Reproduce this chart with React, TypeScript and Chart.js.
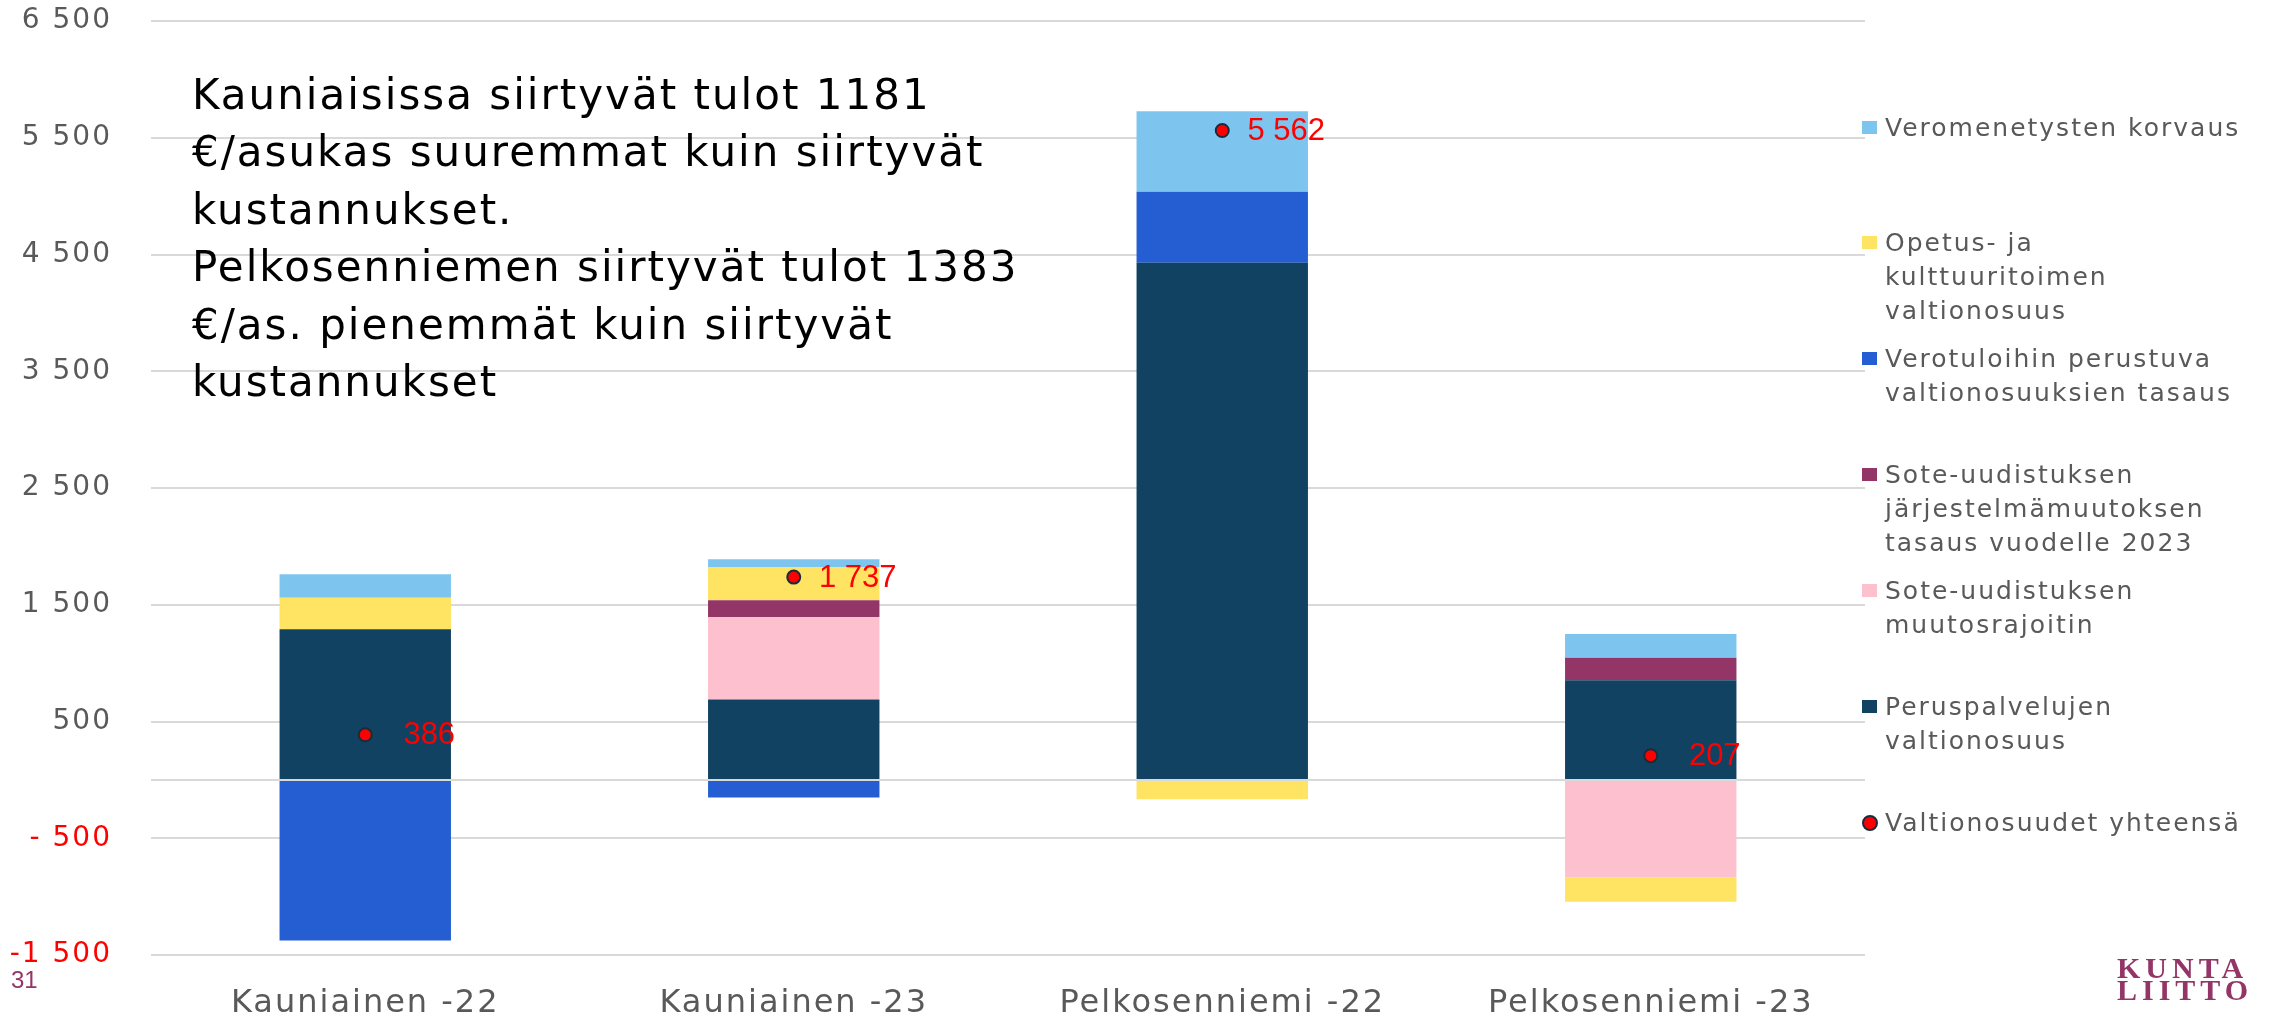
import React, { useEffect, useRef } from 'react';
import { Chart, registerables } from 'chart.js';
Chart.register(...registerables);

const categories = ['Kauniainen -22', 'Kauniainen -23', 'Pelkosenniemi -22', 'Pelkosenniemi -23'];

// series values (€/asukas)
const peruspalvelut = [1290, 688, 4429, 853];
const muutosrajoitin = [0, 707, 0, -835];
const jarjestelmamuutos = [0, 143, 0, 192];
const verotuloTasaus = [-1375, -151, 608, 0];
const opetusKulttuuri = [271, 285, -165, -208];
const veromenetykset = [200, 66, 691, 205];
const totals = [386, 1737, 5562, 207];
const totalLabels = ['386', '1 737', '5 562', '207'];

const yTickValues = [-1500, -500, 0, 500, 1500, 2500, 3500, 4500, 5500, 6500];
const yTickLabels = ['-1 500', '- 500', '', '500', '1 500', '2 500', '3 500', '4 500', '5 500', '6 500'];

const annotationLines = [
  'Kauniaisissa siirtyvät tulot 1181',
  '€/asukas suuremmat kuin siirtyvät',
  'kustannukset.',
  'Pelkosenniemen siirtyvät tulot 1383',
  '€/as. pienemmät kuin siirtyvät',
  'kustannukset',
];

const C = {
  navy: '#114262',
  pink: '#FDC0CF',
  purple: '#933566',
  blue: '#255ED2',
  yellow: '#FFE363',
  light: '#7DC5EF',
  red: '#FF0000',
  gray: '#595959',
  grid: '#D9D9D9',
};

const legendItems = [
  { lines: ['Veromenetysten korvaus'], color: C.light, dot: false },
  { lines: ['Opetus- ja', 'kulttuuritoimen', 'valtionosuus'], color: C.yellow, dot: false },
  { lines: ['Verotuloihin perustuva', 'valtionosuuksien tasaus'], color: C.blue, dot: false },
  { lines: ['Sote-uudistuksen', 'järjestelmämuutoksen', 'tasaus vuodelle 2023'], color: C.purple, dot: false },
  { lines: ['Sote-uudistuksen', 'muutosrajoitin'], color: C.pink, dot: false },
  { lines: ['Peruspalvelujen', 'valtionosuus'], color: C.navy, dot: false },
  { lines: ['Valtionosuudet yhteensä'], color: C.red, dot: true },
];

const FONT = '"DejaVu Sans", sans-serif';

export default function App() {
  const ref = useRef<HTMLCanvasElement>(null);

  useEffect(() => {
    const canvas = ref.current!;
    const spacing = {
      id: 'spacing',
      beforeUpdate(chart: any) { chart.ctx.letterSpacing = '2px'; },
      beforeDraw(chart: any) { chart.ctx.letterSpacing = '2px'; },
      afterDatasetsDraw(chart: any) {
        const ctx = chart.ctx;
        const ca = chart.chartArea;
        const y0 = chart.scales.y.getPixelForValue(0);
        ctx.save();
        ctx.strokeStyle = C.grid;
        ctx.lineWidth = 2;
        ctx.beginPath();
        ctx.moveTo(ca.left, y0);
        ctx.lineTo(ca.right, y0);
        ctx.stroke();
        ctx.restore();
        const meta = chart.getDatasetMeta(0);
        ctx.save();
        ctx.letterSpacing = '0px';
        ctx.fillStyle = C.red;
        ctx.font = '31px "Liberation Sans", Arial, sans-serif';
        ctx.textAlign = 'center';
        ctx.textBaseline = 'middle';
        meta.data.forEach((pt: any, i: number) => {
          ctx.fillText(totalLabels[i], pt.x + 64, pt.y + 1);
        });
        ctx.restore();
      },
    };

    const chart = new Chart(canvas, {
      type: 'bar',
      data: {
        labels: categories,
        datasets: [
          {
            type: 'line',
            label: 'Valtionosuudet yhteensä',
            data: totals,
            showLine: false,
            pointRadius: 6.5,
            pointBorderWidth: 2,
            pointBackgroundColor: C.red,
            pointBorderColor: '#1B2B3B',
            order: -1,
            stack: 'total',
          } as any,
          { label: 'Peruspalvelujen valtionosuus', data: peruspalvelut, backgroundColor: C.navy, stack: 'a' },
          { label: 'Sote-uudistuksen muutosrajoitin', data: muutosrajoitin, backgroundColor: C.pink, stack: 'a' },
          { label: 'Sote-uudistuksen järjestelmämuutoksen tasaus vuodelle 2023', data: jarjestelmamuutos, backgroundColor: C.purple, stack: 'a' },
          { label: 'Verotuloihin perustuva valtionosuuksien tasaus', data: verotuloTasaus, backgroundColor: C.blue, stack: 'a' },
          { label: 'Opetus- ja kulttuuritoimen valtionosuus', data: opetusKulttuuri, backgroundColor: C.yellow, stack: 'a' },
          { label: 'Veromenetysten korvaus', data: veromenetykset, backgroundColor: C.light, stack: 'a' },
        ],
      },
      options: {
        animation: false,
        responsive: false,
        devicePixelRatio: 1,
        layout: { padding: { left: 0, right: 407, top: 21, bottom: 0 } },
        datasets: { bar: { barPercentage: 1, categoryPercentage: 0.4, borderWidth: 0 } } as any,
        plugins: { legend: { display: false }, tooltip: { enabled: false } },
        scales: {
          x: {
            stacked: true,
            grid: { display: false },
            border: { display: false },
            ticks: {
              color: C.gray,
              font: { family: FONT, size: 32 },
              padding: 21,
              maxRotation: 0,
              autoSkip: false,
            },
            afterFit: (s: any) => { s.height = 62; },
          },
          y: {
            stacked: true,
            min: -1500,
            max: 6500,
            afterBuildTicks: (s: any) => { s.ticks = yTickValues.map((v) => ({ value: v })); },
            ticks: {
              callback: (v: any) => yTickLabels[yTickValues.indexOf(Number(v))] ?? '',
              color: (c: any) => (c.tick && c.tick.value < 0 ? C.red : C.gray),
              font: { family: FONT, size: 28 },
              padding: 39,
            },
            grid: { color: C.grid, lineWidth: 2, drawTicks: false },
            border: { display: false },
            afterFit: (s: any) => { s.width = 151; s.paddingTop = 0; s.paddingBottom = 0; },
          } as any,
        },
      },
      plugins: [spacing],
    });
    return () => chart.destroy();
  }, []);

  return (
    <div style={{ position: 'fixed', left: 0, top: 0, width: 2272, height: 1017, background: '#fff', overflow: 'hidden' }}>
      <canvas ref={ref} width={2272} height={1017} style={{ position: 'absolute', left: 0, top: 0 }} />
      <div
        style={{
          position: 'absolute', left: 192, top: 66, fontFamily: FONT, fontSize: 42,
          letterSpacing: '2px', lineHeight: '57.4px', color: '#000', whiteSpace: 'pre',
        }}
      >
        {annotationLines.map((l, i) => (<div key={i}>{l}</div>))}
      </div>
      {legendItems.map((it, k) => {
        const center = 127.5 + k * 115.9;
        return (
          <div key={k} style={{ position: 'absolute', left: 1862, top: center - 17 }}>
            {it.dot ? (
              <div style={{ position: 'absolute', left: 0, top: 9, width: 12, height: 12, borderRadius: '50%', background: C.red, border: '2px solid #1B2B3B' }} />
            ) : (
              <div style={{ position: 'absolute', left: 0, top: 10, width: 15, height: 13, background: it.color }} />
            )}
            <div style={{ position: 'absolute', left: 23, top: 0, fontFamily: FONT, fontSize: 25, letterSpacing: '2px', lineHeight: '34px', color: C.gray, whiteSpace: 'pre' }}>
              {it.lines.map((l, i) => (<div key={i}>{l}</div>))}
            </div>
          </div>
        );
      })}
      <div style={{ position: 'absolute', left: 11, top: 966, fontFamily: '"Liberation Sans Narrow", "Liberation Sans", sans-serif', fontSize: 24, color: C.purple }}>31</div>
      <div style={{ position: 'absolute', left: 2117, top: 957, fontFamily: '"Liberation Serif", serif', fontWeight: 700, fontSize: 30, lineHeight: '22px', letterSpacing: '5px', color: C.purple }}>
        <div>KUNTA</div>
        <div>LIITTO</div>
      </div>
    </div>
  );
}
